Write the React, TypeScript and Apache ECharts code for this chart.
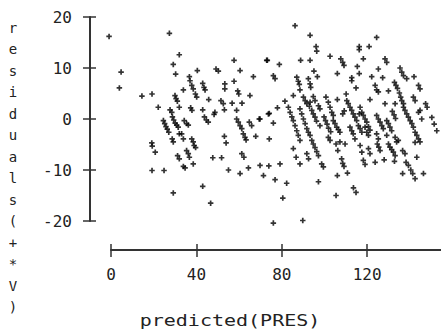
import React, { useEffect, useRef } from "react";
import * as echarts from "echarts";

const xTickValues = [0, 40, 80, 120];
const yTickValues = [-20, -10, 0, 10, 20];
const yLabelText = "residuals(+*V)";
const xLabelText = "predicted(PRES)";

const leftPoints: [number, number][] = [
  [-0.9, 16.2], [4.7, 9.2], [3.9, 6.1], [14.4, 4.5], [19.1, 4.9], [22, 2.3],
  [19, -4.7], [19.2, -5.3], [20.6, -6.5], [19.1, -10.1], [24.7, -10.1], [29, -14.5],
  [27.2, 16.8], [31.8, 12.6], [29, 10.7], [30.1, 8.8],
  [27.5, 1.8], [28.3, 1.3],
  [24.4, -0.3], [25, -0.9], [25.6, -1.5], [26.2, -2], [26.9, -2.6],
  [28.6, 0.4], [29.2, -0.2], [29.9, -0.8], [30.6, -1.2], [31.3, -1.6],
  [29.8, 4.6], [30.3, 4.0], [30.9, 3.5], [31.8, 2.3], [33.7, 5.7],
  [28.5, -3.9], [29, -4.5],
  [31.8, -2.9], [32.9, -2.9], [33.7, -3.9],
  [31, -7.2], [31.8, -7.8], [33.7, -9.3], [34.5, -9.6],
  [34.1, -0.3], [35.2, -0.9], [36, -1.2],
  [35.2, -6.2], [36, -6.8], [36.5, -7.5],
  [36.5, 8.3], [36.8, 7.5], [37.6, 6.6], [38.3, 5.9], [39.3, 4.9], [39.9, 4.3], [40.2, 9.5],
  [37.1, 2.2], [37.7, 1.7],
  [37.6, -3.9], [38.3, -4.5], [38.7, -5.2], [39.4, -5.6],
  [38.3, -8.8],
  [42.7, 7.0], [43.3, 6.2], [43.8, 5.7], [45.5, 3.8], [42.7, 1.8], [43.5, 0.4], [44.4, -0.2], [45.3, -0.6],
];

const middlePoints: [number, number][] = [
  [48.9, 9.8], [50, 9.4], [48.4, 1.3], [48, 0.9], [51.2, 3.6], [52.3, 3.0], [53, 6.9], [53, 5.9], [52.8, 1.8],
  [57.3, 11.5], [60.1, 9.5], [57.3, 7.4], [59, 5.5], [59.5, 4.9], [56.4, 3.1], [61, 3.1], [58.5, 1.7],
  [66.3, 8.3], [64.7, 4.6], [72.5, 11.5],
  [58.5, 0], [59.3, -0.6], [60.1, -1.3], [60.9, -1.9], [61.6, -2.9], [62.4, -3.6], [62.9, -4.1],
  [64.4, -0.6], [65.5, -1.3], [67.4, -3.4], [69, 0], [73.3, 1],
  [60.9, -6.8], [61.9, -7.5], [52.8, -3.4], [53.6, -4.7],
  [42.7, -13.2], [46.4, -16.5], [47.4, -7.6], [51.5, -7.6], [54.7, -10], [60.1, -10.7], [64, -9.6],
  [69.4, -9.1], [71, -11.1], [73.5, -9.2], [78.7, -8.8], [76.4, -11.9], [81.8, -12.6], [80, -15.5],
  [75.6, -20.4], [89.3, -19.9], [75.6, -0.8], [73.7, -3.9],
];

const rightUpperPoints: [number, number][] = [
  [85.7, 18.3], [92.7, 16.4], [95.5, 14.2], [95.8, 13.3], [123.7, 16], [115.6, 14.2], [115.6, 13.6], [120.2, 14.2],
  [72.8, 11.5], [78.4, 10.7], [88.3, 11.5], [92.7, 11.5], [102, 12.3], [107, 11.8], [107.9, 11.1], [108.5, 10.5],
  [114.7, 10.3], [117.5, 11.8], [127.6, 11.8], [128.4, 11.1],
  [75.6, 8.5], [76.4, 7.9], [86.5, 8.2], [87.2, 7.4], [87.7, 6.8], [91.9, 7.9], [92.7, 6.9], [93, 6.2],
  [94.5, 9.4], [96.1, 8.3], [105.4, 8.9], [112.1, 8.1], [112.1, 7.5], [115.6, 8.9], [114.1, 6.1], [121.4, 8.3],
  [124.5, 9.8], [126.5, 8.1], [123, 6.6], [123.7, 5.7], [124.5, 5.3], [129.2, 5.5], [132, 7.2], [132.7, 6.6],
  [133.4, 6], [134.6, 10], [135.4, 9.2], [136.2, 8.5], [137.7, 7.9], [141.1, 8.3], [143.2, 6.6], [143.9, 5.9], [88, 5.7],
  [134.3, 5.1], [134.9, 4.3], [135.4, 3.6], [136.2, 3.0], [140.8, 4.3], [141.6, 3.6],
  [132.3, 3], [127.6, 3], [120.6, 3.8], [105.4, 3.8], [109.5, 4.9],
  [100.1, 4.3], [101.2, 3.3], [102, 2.3], [102.8, 1.3], [103.5, 0.7], [96.6, 2.6], [97.3, 2], [94.2, 4.4], [95, 3.6],
  [89.6, 4.3], [90.4, 3.6], [91.2, 3.0], [92.7, 3.3], [84.9, 4.6], [81, 3.5], [77.5, 2.2], [73.7, 1.1], [69.4, 0],
  [82.6, 2.3], [83.4, 1.3], [84.2, 0.4], [88, 2], [88.8, 1], [89.6, 0],
  [92.4, 2.5], [93.5, 1.7], [94.2, 1], [95, 0.35], [99.2, 0.4],
  [109.8, 3.6], [110.5, 3], [111.3, 2.3], [112.1, 1.7], [112.8, 1], [113.6, 0.35],
  [116, 2.3], [116.8, 1.3], [117.5, 0.7], [118.3, 0], [123.7, 0.7], [124.5, 0],
  [136.2, 2.3], [136.9, 1.7], [137.7, 1], [138.5, 0.35],
  [143.9, 1.7], [144.7, 0], [149.4, 0.3], [143.2, 1.3],
  [107.9, 1], [108.6, 1.6], [115.6, 1], [131, 1.5], [131.8, 0.8], [132.5, 0.1], [146.5, 3], [147.2, 2.3],
];

const rightLowerPoints: [number, number][] = [
  [84.9, -0.3], [85.7, -1.3], [86.5, -2.3], [87.2, -3.2], [88, -4.2],
  [90.4, -0.9], [91.2, -1.9], [91.9, -2.6], [92.7, -3.2], [93.5, -4.2], [94.2, -4.9], [95, -5.6], [95.8, -6.4], [96.6, -7.2],
  [95.7, -0.4], [97.3, -1.3],
  [99.9, -0.3], [100.6, -1.0], [101.3, -1.8], [102.3, -2.5], [101.2, -3.6], [102, -4.2],
  [103.5, -0.3], [104.3, -0.9], [105.1, -1.6], [105.9, -2.1], [106.6, -2.6], [106.6, -4.5],
  [114.4, -0.3], [115.2, -1.3], [116, -1.9], [116.8, -2.6],
  [111.3, -1.6], [112.1, -2.3], [112.8, -2.9], [113.6, -3.9],
  [119.1, -0.6], [119.9, -1.5], [120.6, -2.2],
  [118.3, -1.6], [119.1, -2.6], [119.9, -3.2],
  [125.3, -0.6], [126.1, -1.3], [126.8, -1.9],
  [123.7, -2.9], [124.5, -3.9],
  [128.4, -0.3], [129.2, -0.9], [129.9, -1.6], [130.7, -2.3],
  [139.3, -0.3], [140.1, -0.9], [140.8, -1.6], [141.6, -2.6], [142.4, -3.2], [143.2, -3.9], [143.9, -4.5],
  [151.7, -2.3], [132.3, -3.6], [133, -4.5], [128.4, -3.2], [133.8, -4.2], [150.5, -1],
  [84.9, -5.8], [86.2, -7.5], [88, -8.8], [91.2, -6.8], [92, -7.8], [98.1, -8.8], [98.9, -9.4],
  [104.8, -4.9], [105.6, -6.2], [109, -4.9], [107.4, -7.8], [107.9, -8.7], [108.5, -9.3],
  [116, -5.2], [116.8, -6.5], [117.5, -8.1], [118.3, -8.9],
  [119.9, -5.8], [120.6, -6.8], [123, -8.5],
  [124, -4.9], [124.7, -5.5], [125.3, -6.2], [127.2, -8],
  [129.2, -4.9], [129.9, -5.5], [130.7, -6], [131.5, -6.5], [132.3, -7.2], [132, -8.3],
  [135.8, -6.2], [136.9, -6.8],
  [137.4, -8.5], [138.5, -9.1], [139.6, -10], [140.5, -10.7], [141.6, -11.7], [135.8, -10.7], [145.5, -10.7],
  [142.4, -7.5], [141.6, -4.6],
  [96.6, -12.3], [104.8, -15], [112.9, -13.5], [114.1, -14.4], [105.4, -11.1], [110.1, -10.6],
];

const PLUS = "path://M0,2H2V0H3.8V2H5.8V3.8H3.8V5.8H2V3.8H0Z";
const FONT = '"DejaVu Sans Mono", monospace';
const AXIS_COLOR = "#333";

export default function App() {
  const ref = useRef<HTMLDivElement>(null);
  useEffect(() => {
    if (!ref.current) return;
    const chart = echarts.init(ref.current, null, { renderer: "svg" });
    const points = [...leftPoints, ...middlePoints, ...rightUpperPoints, ...rightLowerPoints];
    const tickStyle = { color: AXIS_COLOR, width: 1.5 };
    chart.setOption({
      animation: false,
      backgroundColor: "#fff",
      grid: [
        { left: 90, top: 17, width: 351, height: 204 },
        { left: 111, top: 240, width: 332, height: 10 },
      ],
      xAxis: [
        { gridIndex: 0, type: "value", min: -9.78, max: 153.67, show: false },
        {
          gridIndex: 1, type: "value", min: 0, max: 154.6, position: "bottom",
          axisLine: { show: true, onZero: false, lineStyle: { color: AXIS_COLOR, width: 2 } },
          axisTick: { show: true, length: 7, lineStyle: tickStyle, customValues: xTickValues },
          axisLabel: { show: true, margin: 16, color: "#222", fontFamily: FONT, fontSize: 16, customValues: xTickValues },
          splitLine: { show: false },
        },
        {
          gridIndex: 1, type: "value", min: 0, max: 154.6, position: "bottom",
          axisLine: { show: false, onZero: false },
          axisTick: { show: true, inside: true, length: 6, lineStyle: tickStyle, customValues: xTickValues },
          axisLabel: { show: false },
          splitLine: { show: false },
        },
      ],
      yAxis: [
        {
          gridIndex: 0, type: "value", min: -20, max: 20, interval: 10, position: "left",
          axisLine: { show: true, onZero: false, lineStyle: { color: AXIS_COLOR, width: 2 } },
          axisTick: { show: true, length: 7, lineStyle: tickStyle, customValues: yTickValues },
          axisLabel: { show: true, margin: 18, color: "#222", fontFamily: FONT, fontSize: 16, customValues: yTickValues },
          splitLine: { show: false },
        },
        {
          gridIndex: 0, type: "value", min: -20, max: 20, interval: 10, position: "left",
          axisLine: { show: false, onZero: false },
          axisTick: { show: true, inside: true, length: 6, lineStyle: tickStyle, customValues: yTickValues },
          axisLabel: { show: false },
          splitLine: { show: false },
        },
        { gridIndex: 1, type: "value", min: 0, max: 1, show: false },
      ],
      series: [
        {
          type: "scatter",
          xAxisIndex: 0,
          yAxisIndex: 0,
          data: points,
          symbol: PLUS,
          symbolSize: 5.5,
          itemStyle: { color: "#000" },
          clip: false,
        },
      ],
      graphic: [
        {
          type: "text",
          x: 13,
          y: 17,
          style: {
            text: yLabelText.split("").join("\n"),
            font: `14px ${FONT}`,
            lineHeight: 21.5,
            align: "center",
            verticalAlign: "top",
            fill: "#222",
          },
        },
        {
          type: "text",
          x: 230,
          y: 320,
          scaleX: 1.25,
          style: {
            text: xLabelText,
            font: `16px ${FONT}`,
            align: "center",
            verticalAlign: "middle",
            fill: "#222",
          },
        },
      ],
    });
    return () => chart.dispose();
  }, []);
  return (
    <div
      ref={ref}
      style={{ position: "fixed", left: 0, top: 0, width: 441, height: 331, background: "#fff" }}
    />
  );
}
